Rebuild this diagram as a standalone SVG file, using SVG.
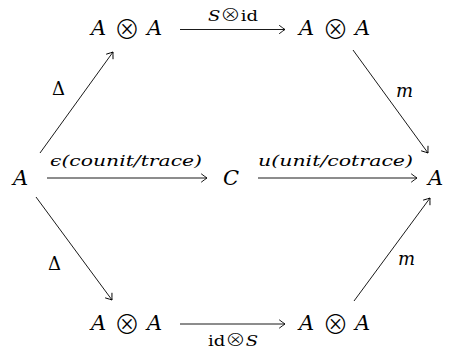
<svg xmlns="http://www.w3.org/2000/svg" width="452" height="350" viewBox="0 0 452 350">
  <defs>
    <marker id="arr" viewBox="-8 -5 10 10" refX="0" refY="0" markerWidth="10" markerHeight="10" markerUnits="userSpaceOnUse" orient="auto">
      <path d="M -5.5,-4 Q -1.5,-1 0,0 Q -1.5,1 -5.5,4" fill="none" stroke="#000" stroke-width="0.9" stroke-linecap="round"/>
    </marker>
  </defs>
  <style>
    text { font-family: 'DejaVu Serif', 'Liberation Serif', serif; fill: #000; }
    .node { font-size: 21px; font-style: italic; }
    .ot { font-family: 'Noto Sans CJK JP', 'DejaVu Sans', sans-serif; font-size: 26px; font-style: normal; text-anchor: middle; font-weight: 200; }
    .ots { font-family: 'Noto Sans CJK JP', 'DejaVu Sans', sans-serif; font-size: 17px; font-style: normal; font-weight: 300; }
    .lbl { font-size: 15px; font-style: italic; }
    .big { font-size: 18px; }
    .rm { font-style: normal; }
    .edge { stroke: #000; stroke-width: 0.9; fill: none; marker-end: url(#arr); }
  </style>
  <rect width="452" height="350" fill="#fff"/>
  <g id="n_tl">
    <text class="node" x="91" y="35">A</text>
    <text class="ot" x="127" y="38.5">⊗</text>
    <text class="node" x="147" y="35">A</text>
  </g>
  <g id="n_tr">
    <text class="node" x="299" y="35">A</text>
    <text class="ot" x="335.5" y="38.5">⊗</text>
    <text class="node" x="355" y="35">A</text>
  </g>
  <g id="n_bl">
    <text class="node" x="91" y="330">A</text>
    <text class="ot" x="127" y="333.5">⊗</text>
    <text class="node" x="147" y="330">A</text>
  </g>
  <g id="n_br">
    <text class="node" x="299" y="330">A</text>
    <text class="ot" x="335.5" y="333.5">⊗</text>
    <text class="node" x="355" y="330">A</text>
  </g>
  <g id="n_a">
    <text class="node" x="13" y="185">A</text>
  </g>
  <g id="n_c">
    <text class="node" x="223" y="185">C</text>
  </g>
  <g id="n_a2">
    <text class="node" x="428" y="185">A</text>
  </g>
  <g id="connectors">
    <line class="edge" x1="180" y1="29.5" x2="285" y2="29.5"/>
    <line class="edge" x1="180" y1="324" x2="285" y2="324"/>
    <line class="edge" x1="47" y1="178" x2="207" y2="178"/>
    <line class="edge" x1="258" y1="178" x2="417" y2="178"/>
    <line class="edge" x1="40" y1="153" x2="113" y2="52"/>
    <line class="edge" x1="353" y1="50" x2="428" y2="153"/>
    <line class="edge" x1="36" y1="197" x2="112" y2="300"/>
    <line class="edge" x1="354" y1="301" x2="430" y2="198"/>
    <text class="lbl" x="208" y="21" textLength="50" lengthAdjust="spacingAndGlyphs">S<tspan class="ots">⊗</tspan><tspan class="rm">id</tspan></text>
    <text class="lbl" x="208" y="346" textLength="50" lengthAdjust="spacingAndGlyphs"><tspan class="rm">id</tspan><tspan class="ots">⊗</tspan>S</text>
    <text class="lbl" x="50" y="166" textLength="152" lengthAdjust="spacingAndGlyphs">ϵ(counit/trace)</text>
    <text class="lbl" x="258" y="166" textLength="155" lengthAdjust="spacingAndGlyphs">u(unit/cotrace)</text>
    <text class="lbl rm big" x="52" y="95">Δ</text>
    <text class="lbl rm big" x="48" y="270">Δ</text>
    <text class="lbl big" x="396" y="97">m</text>
    <text class="lbl big" x="398" y="265">m</text>
  </g>
</svg>
